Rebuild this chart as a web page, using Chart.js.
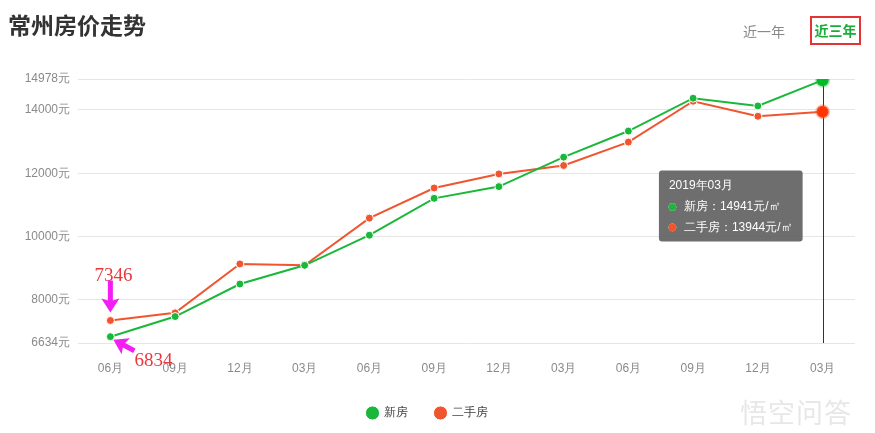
<!DOCTYPE html>
<html>
<head>
<meta charset="utf-8">
<script src="https://cdn.jsdelivr.net/npm/chart.js@4.4.0/dist/chart.umd.min.js"></script>
<style>
  body { margin:0; background:#fff; font-family:"Noto Sans CJK SC","Noto Sans",sans-serif; }
  #wrap { position:relative; width:875px; height:433px; }
  #title { position:absolute; left:8px; top:7px; font-size:23px; font-weight:bold; color:#333; }
  .tab { position:absolute; top:19px; font-size:14px; line-height:24px; }
  #tab1 { left:743px; color:#888; }
  #tab3 { left:810px; width:47px; text-align:center; color:#1aad3a; font-weight:bold; border:2px solid #e53333; height:25px; top:16px; }
  #mark { position:absolute; left:740px; top:392px; font-size:27px; color:rgba(215,215,215,0.6); letter-spacing:1px; }
  #c { position:absolute; left:0; top:0; }
</style>
</head>
<body>
<div id="wrap">
  <canvas id="c" width="875" height="433"></canvas>
  <div id="title">常州房价走势</div>
  <div class="tab" id="tab1">近一年</div>
  <div class="tab" id="tab3">近三年</div>
  <div id="mark">悟空问答</div>
</div>
<script>
var periods = ['2016年06月','2016年09月','2016年12月','2017年03月','2017年06月','2017年09月',
               '2017年12月','2018年03月','2018年06月','2018年09月','2018年12月','2019年03月'];
var newHouse = [6834, 7470, 8498, 9089, 10041, 11206, 11577, 12508, 13333, 14371, 14127, 14941];
var secondHand = [7346, 7587, 9133, 9089, 10581, 11533, 11978, 12244, 12984, 14276, 13800, 13944];
var yTicks = [6634, 8000, 10000, 12000, 14000, 14978];

var green = '#1ab73a', red = '#f0552f';

Chart.Tooltip.positioners.leftMid = function(items){
    if(!items.length) return false;
    var ca = this.chart.chartArea;
    return { x: items[0].element.x, y: (ca.top + ca.bottom) / 2 - 5 };
};

// vertical line under the active points
var guideLine = {
    id:'guideLine',
    beforeDatasetsDraw: function(chart){
        var act = chart.getActiveElements();
        if(!act.length) return;
        var top = Math.min.apply(null, act.map(function(a){ return a.element.y; }));
        var ctx = chart.ctx;
        ctx.save();
        ctx.strokeStyle = '#333';
        ctx.lineWidth = 1;
        ctx.beginPath();
        ctx.moveTo(Math.round(act[0].element.x) + 0.5, top);
        ctx.lineTo(Math.round(act[0].element.x) + 0.5, chart.chartArea.bottom);
        ctx.stroke();
        ctx.restore();
    }
};

function arrow(ctx, x1, y1, x2, y2){
    var ang = Math.atan2(y2 - y1, x2 - x1);
    var len = Math.hypot(x2 - x1, y2 - y1);
    ctx.save();
    ctx.translate(x1, y1);
    ctx.rotate(ang);
    ctx.beginPath();
    ctx.moveTo(0, -2.5);
    ctx.lineTo(len - 12, -2.5);
    ctx.lineTo(len - 14, -9);
    ctx.lineTo(len, 0);
    ctx.lineTo(len - 14, 9);
    ctx.lineTo(len - 12, 2.5);
    ctx.lineTo(0, 2.5);
    ctx.closePath();
    ctx.fillStyle = '#f21ef2';
    ctx.fill();
    ctx.restore();
}

// hand-drawn style notes on the first points
var notes = {
    id:'notes',
    afterDatasetsDraw: function(chart){
        var ctx = chart.ctx;
        var r = chart.getDatasetMeta(1).data[0];
        var g = chart.getDatasetMeta(0).data[0];
        ctx.save();
        ctx.font = '19px "Liberation Serif", "DejaVu Serif", serif';
        ctx.fillStyle = '#e8383d';
        ctx.textAlign = 'center';
        ctx.fillText(String(secondHand[0]), r.x + 3, r.y - 44);
        arrow(ctx, r.x, r.y - 40, r.x, r.y - 8);
        ctx.textAlign = 'left';
        ctx.fillText(String(newHouse[0]), g.x + 24, g.y + 24);
        arrow(ctx, g.x + 24, g.y + 14, g.x + 3, g.y + 3);
        ctx.restore();
    }
};

var ctx = document.getElementById('c').getContext('2d');
var chart = new Chart(ctx, {
    type:'line',
    data:{
        labels: periods,
        datasets:[
            { label:'新房', data:newHouse, borderColor:green, backgroundColor:green,
              pointBackgroundColor:green, pointBorderColor:'#fff', pointBorderWidth:1, pointRadius:4,
              pointHoverRadius:6, pointHoverBorderWidth:3, pointHoverBorderColor:'rgba(26,183,58,0.35)',
              borderWidth:2, tension:0 },
            { label:'二手房', data:secondHand, borderColor:red, backgroundColor:red,
              pointBackgroundColor:red, pointBorderColor:'#fff', pointBorderWidth:1, pointRadius:4,
              pointHoverRadius:6, pointHoverBorderWidth:3, pointHoverBorderColor:'rgba(240,85,47,0.35)',
              borderWidth:2, tension:0 }
        ]
    },
    options:{
        responsive:false,
        animation:false,
        layout:{ padding:{ top:79, right:20, bottom:4, left:0 } },
        interaction:{ mode:'index', intersect:false },
        scales:{
            x:{
                offset:true,
                grid:{ display:false, drawTicks:false },
                border:{ display:false },
                ticks:{
                    color:'#8a8a8a', font:{ size:12 }, padding:18, maxRotation:0, autoSkip:false,
                    callback:function(v){ return periods[v].slice(5); }
                },
                afterFit:function(s){ s.height = 36; }
            },
            y:{
                min:yTicks[0], max:yTicks[yTicks.length - 1],
                grid:{ color:'#e6e6e6', drawTicks:false },
                border:{ display:false },
                ticks:{ color:'#8a8a8a', font:{ size:12 }, padding:8,
                        callback:function(v){ return v + '元'; } },
                afterBuildTicks:function(s){ s.ticks = yTicks.map(function(v){ return { value:v }; }); },
                afterFit:function(s){ s.width = 78; }
            }
        },
        plugins:{
            legend:{
                position:'bottom',
                labels:{ usePointStyle:true, pointStyle:'circle', boxWidth:10, boxHeight:10,
                         color:'#444', font:{ size:12 }, padding:28 }
            },
            tooltip:{
                position:'leftMid', xAlign:'right', yAlign:'center',
                caretSize:0, caretPadding:20,
                backgroundColor:'rgba(90,90,90,0.88)', cornerRadius:3,
                padding:{ left:10, right:10, top:8, bottom:7 },
                titleFont:{ size:12, weight:'normal' }, titleMarginBottom:7,
                bodyFont:{ size:12 }, bodySpacing:6,
                usePointStyle:true, boxWidth:7, boxHeight:7, boxPadding:6,
                callbacks:{
                    label:function(c){ return c.dataset.label + '：' + c.parsed.y + '元/㎡'; },
                    labelColor:function(c){ var col = c.dataset.borderColor; return { borderColor:col, backgroundColor:col }; },
                    labelPointStyle:function(){ return { pointStyle:'circle', rotation:0 }; }
                }
            }
        }
    },
    plugins:[guideLine, notes]
});

var last = periods.length - 1;
var act = [{ datasetIndex:0, index:last }, { datasetIndex:1, index:last }];
chart.setActiveElements(act);
var el = chart.getDatasetMeta(0).data[last];
chart.tooltip.setActiveElements(act, { x:el.x, y:el.y });
chart.update('none');
</script>
</body>
</html>
